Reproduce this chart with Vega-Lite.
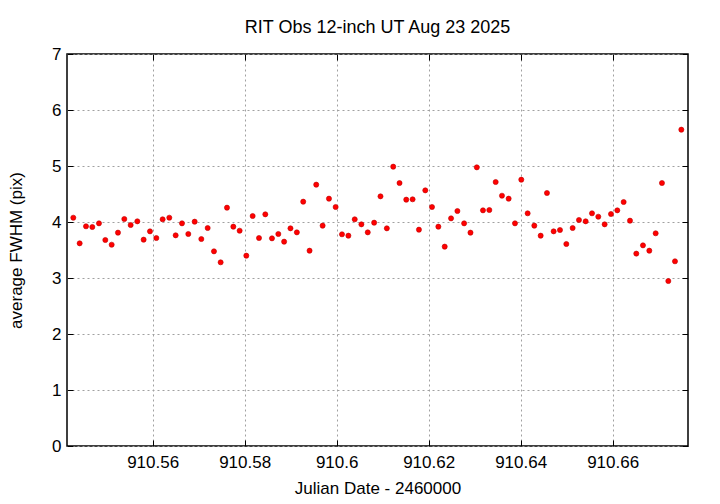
{
  "$schema": "https://vega.github.io/schema/vega-lite/v6.json",
  "width": 621,
  "height": 392,
  "autosize": {"type": "none"},
  "padding": {"left": 67, "top": 54, "right": 32, "bottom": 58},
  "background": "white",
  "title": {"text": "RIT Obs 12-inch UT Aug 23 2025", "font": "Liberation Sans", "fontSize": 18, "fontWeight": "normal", "color": "black", "offset": 8, "anchor": "middle"},
  "config": {
    "view": {"stroke": "black", "strokeWidth": 1.5},
    "axis": {"labelFont": "Liberation Sans", "titleFont": "Liberation Sans", "labelFontSize": 17, "titleFontSize": 17, "titleFontWeight": "normal", "labelColor": "black", "titleColor": "black", "domain": false, "tickColor": "black", "tickSize": -6, "tickWidth": 1, "gridColor": "#a0a0a0", "gridDash": [2, 3], "gridWidth": 1, "gridOpacity": 1}
  },
  "data": {"values": [
    {"jd": 910.54275, "fwhm": 4.077}, {"jd": 910.54413, "fwhm": 3.619}, {"jd": 910.54551, "fwhm": 3.923}, {"jd": 910.54688, "fwhm": 3.911},
    {"jd": 910.54833, "fwhm": 3.976}, {"jd": 910.54971, "fwhm": 3.679}, {"jd": 910.55109, "fwhm": 3.595}, {"jd": 910.55246, "fwhm": 3.810},
    {"jd": 910.55384, "fwhm": 4.054}, {"jd": 910.55522, "fwhm": 3.946}, {"jd": 910.55667, "fwhm": 4.012}, {"jd": 910.55804, "fwhm": 3.685},
    {"jd": 910.55942, "fwhm": 3.833}, {"jd": 910.56080, "fwhm": 3.714}, {"jd": 910.56217, "fwhm": 4.048}, {"jd": 910.56362, "fwhm": 4.077},
    {"jd": 910.56500, "fwhm": 3.762}, {"jd": 910.56638, "fwhm": 3.976}, {"jd": 910.56775, "fwhm": 3.786}, {"jd": 910.56913, "fwhm": 4.006},
    {"jd": 910.57058, "fwhm": 3.696}, {"jd": 910.57196, "fwhm": 3.893}, {"jd": 910.57333, "fwhm": 3.476}, {"jd": 910.57478, "fwhm": 3.280},
    {"jd": 910.57616, "fwhm": 4.256}, {"jd": 910.57754, "fwhm": 3.917}, {"jd": 910.57891, "fwhm": 3.845}, {"jd": 910.58036, "fwhm": 3.399},
    {"jd": 910.58174, "fwhm": 4.107}, {"jd": 910.58312, "fwhm": 3.714}, {"jd": 910.58449, "fwhm": 4.137}, {"jd": 910.58594, "fwhm": 3.708},
    {"jd": 910.58732, "fwhm": 3.786}, {"jd": 910.58858, "fwhm": 3.649}, {"jd": 910.58996, "fwhm": 3.887}, {"jd": 910.59135, "fwhm": 3.815},
    {"jd": 910.59273, "fwhm": 4.363}, {"jd": 910.59411, "fwhm": 3.488}, {"jd": 910.59556, "fwhm": 4.667}, {"jd": 910.59695, "fwhm": 3.935},
    {"jd": 910.59833, "fwhm": 4.417}, {"jd": 910.59978, "fwhm": 4.268}, {"jd": 910.60116, "fwhm": 3.780}, {"jd": 910.60255, "fwhm": 3.756},
    {"jd": 910.60393, "fwhm": 4.048}, {"jd": 910.60538, "fwhm": 3.958}, {"jd": 910.60676, "fwhm": 3.815}, {"jd": 910.60815, "fwhm": 3.988},
    {"jd": 910.60953, "fwhm": 4.458}, {"jd": 910.61091, "fwhm": 3.887}, {"jd": 910.61230, "fwhm": 4.988}, {"jd": 910.61367, "fwhm": 4.696},
    {"jd": 910.61513, "fwhm": 4.399}, {"jd": 910.61651, "fwhm": 4.405}, {"jd": 910.61789, "fwhm": 3.863}, {"jd": 910.61927, "fwhm": 4.565},
    {"jd": 910.62073, "fwhm": 4.268}, {"jd": 910.62211, "fwhm": 3.917}, {"jd": 910.62349, "fwhm": 3.560}, {"jd": 910.62487, "fwhm": 4.065},
    {"jd": 910.62625, "fwhm": 4.196}, {"jd": 910.62771, "fwhm": 3.976}, {"jd": 910.62909, "fwhm": 3.810}, {"jd": 910.63047, "fwhm": 4.976},
    {"jd": 910.63181, "fwhm": 4.208}, {"jd": 910.63319, "fwhm": 4.214}, {"jd": 910.63457, "fwhm": 4.714}, {"jd": 910.63594, "fwhm": 4.470},
    {"jd": 910.63739, "fwhm": 4.417}, {"jd": 910.63877, "fwhm": 3.976}, {"jd": 910.64014, "fwhm": 4.756}, {"jd": 910.64152, "fwhm": 4.155},
    {"jd": 910.64297, "fwhm": 3.935}, {"jd": 910.64435, "fwhm": 3.756}, {"jd": 910.64572, "fwhm": 4.518}, {"jd": 910.64717, "fwhm": 3.833},
    {"jd": 910.64855, "fwhm": 3.857}, {"jd": 910.64993, "fwhm": 3.607}, {"jd": 910.65130, "fwhm": 3.893}, {"jd": 910.65268, "fwhm": 4.036},
    {"jd": 910.65413, "fwhm": 4.012}, {"jd": 910.65551, "fwhm": 4.155}, {"jd": 910.65688, "fwhm": 4.095}, {"jd": 910.65826, "fwhm": 3.958},
    {"jd": 910.65964, "fwhm": 4.143}, {"jd": 910.66101, "fwhm": 4.208}, {"jd": 910.66239, "fwhm": 4.357}, {"jd": 910.66377, "fwhm": 4.024},
    {"jd": 910.66514, "fwhm": 3.435}, {"jd": 910.66659, "fwhm": 3.583}, {"jd": 910.66797, "fwhm": 3.488}, {"jd": 910.66935, "fwhm": 3.798},
    {"jd": 910.67072, "fwhm": 4.696}, {"jd": 910.67210, "fwhm": 2.946}, {"jd": 910.67355, "fwhm": 3.298}, {"jd": 910.67493, "fwhm": 5.649}
  ]},
  "layer": [
    {
      "mark": {"type": "point", "filled": true, "shape": "circle", "size": 26, "color": "#ff0000", "opacity": 1, "stroke": "#c00000", "strokeWidth": 0.6},
      "encoding": {
        "x": {"field": "jd", "type": "quantitative", "scale": {"domain": [910.54138, 910.67638], "nice": false, "zero": false},
          "axis": {"title": "Julian Date - 2460000", "values": [910.56, 910.58, 910.6, 910.62, 910.64, 910.66], "format": ".2~f", "labelPadding": 14, "titlePadding": 10, "grid": true}},
        "y": {"field": "fwhm", "type": "quantitative", "scale": {"domain": [0, 7], "nice": false},
          "axis": {"title": "average FWHM (pix)", "values": [0, 1, 2, 3, 4, 5, 6, 7], "labelPadding": 12, "titlePadding": 26, "grid": true}}
      }
    },
    {
      "mark": {"type": "point", "opacity": 0},
      "encoding": {
        "x": {"field": "jd", "type": "quantitative", "scale": {"domain": [910.54138, 910.67638], "nice": false, "zero": false},
          "axis": {"orient": "top", "title": null, "labels": false, "grid": false, "values": [910.56, 910.58, 910.6, 910.62, 910.64, 910.66]}},
        "y": {"field": "fwhm", "type": "quantitative", "scale": {"domain": [0, 7], "nice": false},
          "axis": {"orient": "right", "title": null, "labels": false, "grid": false, "values": [0, 1, 2, 3, 4, 5, 6, 7]}}
      }
    }
  ],
  "resolve": {"axis": {"x": "independent", "y": "independent"}}
}
